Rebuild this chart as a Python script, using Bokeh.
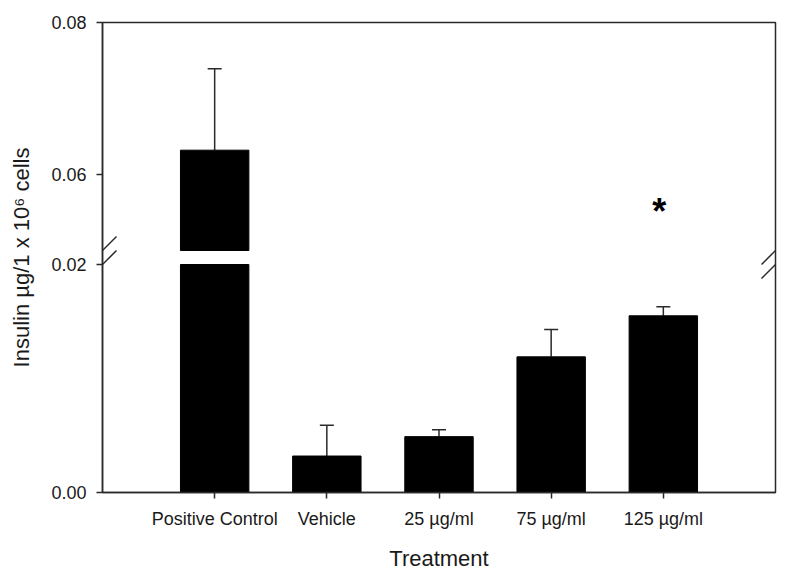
import numpy as np
from bokeh.plotting import figure
from bokeh.models import Range1d, FixedTicker, ColumnDataSource, Whisker, TeeHead, Arrow
from bokeh.core.properties import value
from bokeh.embed import file_html
from bokeh.resources import INLINE

# ---- data ----
categories = ["Positive Control", "Vehicle", "25 µg/ml", "75 µg/ml", "125 µg/ml"]
means = [0.0632, 0.0032, 0.0049, 0.0119, 0.0155]
errors = [0.0107, 0.0027, 0.0006, 0.0024, 0.0008]
lower_ticks = [0.00, 0.02]
upper_ticks = [0.06, 0.08]
lower_segment = (0.0, 0.02)
upper_segment = (0.05, 0.08)
significant = ["125 µg/ml"]
star_level = 0.0551

# ---- layout / style ----
FONT = "Liberation Sans"
INK = "#2a2a2a"
W, H = 800, 575
BL, BR, BT, BB = 102, 25, 22, 83
FRAME_W, FRAME_H = W - BL - BR, H - BT - BB
SEG_PX = 228  # pixel height of each axis segment

frac = SEG_PX / FRAME_H
lo_end = lower_segment[0] + (lower_segment[1] - lower_segment[0]) / frac
up_start = upper_segment[1] - (upper_segment[1] - upper_segment[0]) / frac

x = list(range(1, len(categories) + 1))
x_end = len(categories) + 1

p = figure(width=W, height=H, x_range=Range1d(0, x_end),
           y_range=Range1d(lower_segment[0], lo_end),
           output_backend="svg", toolbar_location=None,
           min_border_left=BL, min_border_right=BR,
           min_border_top=BT, min_border_bottom=BB)
p.extra_y_ranges = {"upper": Range1d(up_start, upper_segment[1])}
p.xgrid.visible = False
p.ygrid.visible = False
p.outline_line_color = INK
p.outline_line_width = 1.5
p.background_fill_color = "white"
p.border_fill_color = "white"


def up_to_lo(u):
    return lower_segment[0] + (u - up_start) / (upper_segment[1] - up_start) * (lo_end - lower_segment[0])


# ---- axes ----
yax = p.yaxis[0]
yticks = list(lower_ticks) + [up_to_lo(u) for u in upper_ticks]
yax.ticker = FixedTicker(ticks=yticks)
yax.major_label_overrides = {t: f"{v:.2f}" for t, v in zip(yticks, list(lower_ticks) + list(upper_ticks))}
yax.axis_label = "Insulin µg/1 x 10⁶ cells"

xax = p.xaxis[0]
xax.ticker = FixedTicker(ticks=x)
xax.major_label_overrides = {xi: c for xi, c in zip(x, categories)}
xax.axis_label = "Treatment"

for ax in (xax, yax):
    ax.axis_line_color = INK
    ax.axis_line_width = 1.5
    ax.major_tick_line_color = INK
    ax.major_tick_line_width = 1.5
    ax.major_tick_out = 6
    ax.major_tick_in = 0
    ax.minor_tick_line_color = None
    ax.major_label_text_font = FONT
    ax.major_label_text_font_size = "18px"
    ax.major_label_text_color = "#1a1a1a"
    ax.axis_label_text_font = FONT
    ax.axis_label_text_font_size = "22px"
    ax.axis_label_text_font_style = "normal"
    ax.axis_label_text_color = "#1a1a1a"
    ax.major_label_standoff = 10
yax.axis_label_standoff = 14
xax.axis_label_standoff = 14

# ---- bars ----
BAR_W = 0.61
lower_top = [min(m, lower_segment[1]) for m in means]
p.vbar(x=x, top=lower_top, bottom=lower_segment[0], width=BAR_W,
       fill_color="black", line_color="black")
up_x = [xi for xi, m in zip(x, means) if m > upper_segment[0]]
up_top = [m for m in means if m > upper_segment[0]]
p.vbar(x=up_x, top=up_top, bottom=upper_segment[0], width=BAR_W,
       fill_color="black", line_color="black", y_range_name="upper")

# ---- error bars (upper only) ----
def add_whiskers(sel, range_name):
    src = ColumnDataSource(dict(
        x=[x[i] for i in sel],
        lower=[means[i] for i in sel],
        upper=[means[i] + errors[i] for i in sel],
    ))
    w = Whisker(base="x", lower="lower", upper="upper", source=src,
                line_color=INK, line_width=1.5,
                upper_head=TeeHead(size=14, line_color=INK, line_width=1.5),
                lower_head=None, y_range_name=range_name)
    p.add_layout(w)

add_whiskers([i for i, m in enumerate(means) if m > upper_segment[0]], "upper")
add_whiskers([i for i, m in enumerate(means) if m <= upper_segment[0]], "default")

# ---- significance star ----
sx = [x[categories.index(c)] for c in significant]
p.text(x=sx, y=[star_level] * len(sx), text=["*"] * len(sx),
       text_font=value(FONT), text_font_size="36px", text_font_style="bold",
       text_align="center", text_baseline="middle", text_color="black",
       x_offset=-4, y_range_name="upper")

# ---- axis break marks ----
DX_PX, DY_PX = 14, 14
dx = DX_PX * x_end / FRAME_W
dy_lo = DY_PX * (lo_end - lower_segment[0]) / FRAME_H
dy_up = DY_PX * (upper_segment[1] - up_start) / FRAME_H
for xc in (0, x_end):
    p.add_layout(Arrow(x_start=xc - dx, y_start=upper_segment[0] - dy_up,
                       x_end=xc + dx, y_end=upper_segment[0] + dy_up,
                       start=None, end=None, line_color=INK, line_width=1.5,
                       y_range_name="upper"))
    p.add_layout(Arrow(x_start=xc - dx, y_start=lower_segment[1] - dy_lo,
                       x_end=xc + dx, y_end=lower_segment[1] + dy_lo,
                       start=None, end=None, line_color=INK, line_width=1.5))

open("out.html", "w").write(file_html(p, INLINE))
